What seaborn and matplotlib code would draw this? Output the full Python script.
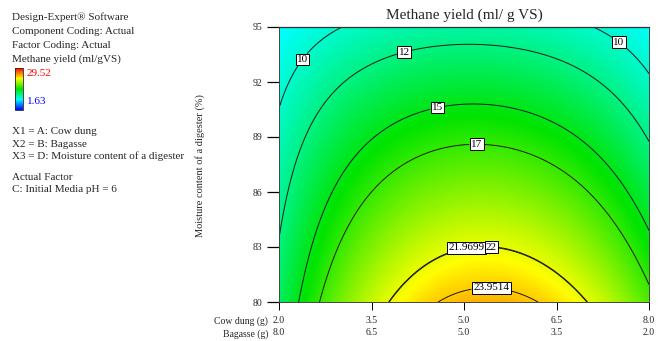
import numpy as np
import matplotlib
matplotlib.use("Agg")
import matplotlib.pyplot as plt
from matplotlib.colors import Normalize
import matplotlib.cm as cm
import seaborn as sns

# ---------------- data ----------------
cow_dung_ticks = [2.0, 3.5, 5.0, 6.5, 8.0]
bagasse_tick_labels = ["8.0", "6.5", "5.0", "3.5", "2.0"]
moisture_ticks = [80, 83, 86, 89, 92, 95]
contour_levels = [10, 12, 15, 17, 21.9699, 22, 23.9514]
label_spots = {
    10: [(2.37, 93.25), (7.56, 94.4)],
    12: [(4.01, 93.9)],
    15: [(4.56, 90.75)],
    17: [(5.21, 88.84)],
    21.9699: [(5.02, 83.27)],
    22: [(5.45, 83.27)],
    23.9514: [(5.45, 81.2)],
}
yield_min, yield_max = 1.63, 29.52

# fitted response-surface parameters
peak_yield = 24.62
moist_lin = 13.0
moist_quad = 0.5
cd_curv0 = 1.02
cd_curv_moist = 0.60
cd_curv_moist2 = 0.15
cd_center0 = 5.39
cd_center_shift = 0.33


def methane_yield(cd, moist):
    v = (moist - 80.0) / 15.0
    c = cd_center0 - cd_center_shift * v
    k = cd_curv0 - cd_curv_moist * v - cd_curv_moist2 * v ** 2
    return peak_yield - moist_lin * v - moist_quad * v ** 2 - k * (cd - c) ** 2


# ---------------- style ----------------
sns.set_theme(style="white")
plt.rcParams['font.family'] = ['Liberation Serif', 'DejaVu Serif']

W, H = 668, 341
fig = plt.figure(figsize=(W / 100, H / 100), dpi=100)
fig.patch.set_facecolor("white")

cmap = sns.blend_palette(["#0000ff", "#00ffff", "#00e400", "#ffff00", "#ff0000"], as_cmap=True)
norm = Normalize(yield_min, yield_max)

ax = fig.add_axes([279 / W, 1 - 302 / H, 370 / W, 275 / H])
cd = np.linspace(2, 8, 301)
mo = np.linspace(80, 95, 301)
CD, MO = np.meshgrid(cd, mo)
Z = methane_yield(CD, MO)
ax.pcolormesh(CD, MO, Z, cmap=cmap, norm=norm, shading="gouraud")


def fmt(v):
    return f"{v:g}"


for lev in contour_levels:
    cs = ax.contour(CD, MO, Z, levels=[lev], colors="k", linewidths=0.7)
    texts = ax.clabel(cs, fmt=fmt, manual=label_spots[lev], inline=True,
                      inline_spacing=2, fontsize=8)
    for t in texts:
        t.set_rotation(0)
        t.set_color("black")
        t.set_bbox(dict(facecolor="white", edgecolor="black",
                        boxstyle="square,pad=0.12", linewidth=0.7))

ax.set_xlim(2, 8)
ax.set_ylim(80, 95)
ax.set_xticks(cow_dung_ticks)
ax.set_xticklabels([f"{c:.1f}\n{b}" for c, b in zip(cow_dung_ticks, bagasse_tick_labels)],
                   linespacing=1.5)
ax.set_yticks(moisture_ticks)
ax.set_yticklabels([str(m) for m in moisture_ticks])
ax.tick_params(axis="x", bottom=True, direction="out", length=6, width=0.7,
               color="black", labelsize=7, pad=4)
ax.tick_params(axis="y", left=True, direction="out", length=9, width=0.9,
               color="black", labelsize=7, pad=3)
for s in ["left", "right", "bottom"]:
    ax.spines[s].set_linestyle((0, (1, 1)))
    ax.spines[s].set_linewidth(0.7)
    ax.spines[s].set_color("#444444")
ax.spines["top"].set_linewidth(0.9)
ax.spines["top"].set_color("#333333")

ax.set_title("Methane yield (ml/ g VS)", fontsize=11, pad=6)
ax.set_ylabel("Moisture content of a digester (%)", fontsize=7.5)
ax.yaxis.set_label_coords((205 - 279) / 370, (302 - 166) / 275)

# x row titles
fig.text(268 / W, 1 - 321 / H, "Cow dung (g)", ha="right", va="center", fontsize=7)
fig.text(268 / W, 1 - 334 / H, "Bagasse (g)", ha="right", va="center", fontsize=7)

# left info panel
info_top = [("Design-Expert\u00ae Software", 17), ("Component Coding: Actual", 31),
            ("Factor Coding: Actual", 45), ("Methane yield (ml/gVS)", 59)]
for txt, y in info_top:
    fig.text(12 / W, 1 - y / H, txt, ha="left", va="center", fontsize=8)

cax = fig.add_axes([15 / W, 1 - 110 / H, 8 / W, 42 / H])
sm = cm.ScalarMappable(norm=norm, cmap=cmap)
cb = fig.colorbar(sm, cax=cax)
cb.set_ticks([])
cb.outline.set_linewidth(0.6)
fig.text(27 / W, 1 - 73 / H, f"{yield_max:.2f}", color="red", ha="left", va="center", fontsize=8)
fig.text(27 / W, 1 - 101 / H, f"{yield_min:.2f}", color="blue", ha="left", va="center", fontsize=8)

info_bottom = [("X1 = A: Cow dung", 132), ("X2 = B: Bagasse", 144),
               ("X3 = D: Moisture content of a digester", 156),
               ("Actual Factor", 177), ("C: Initial Media pH = 6", 190)]
for txt, y in info_bottom:
    fig.text(12 / W, 1 - y / H, txt, ha="left", va="center", fontsize=8)

fig.savefig("out.png", dpi=100)
